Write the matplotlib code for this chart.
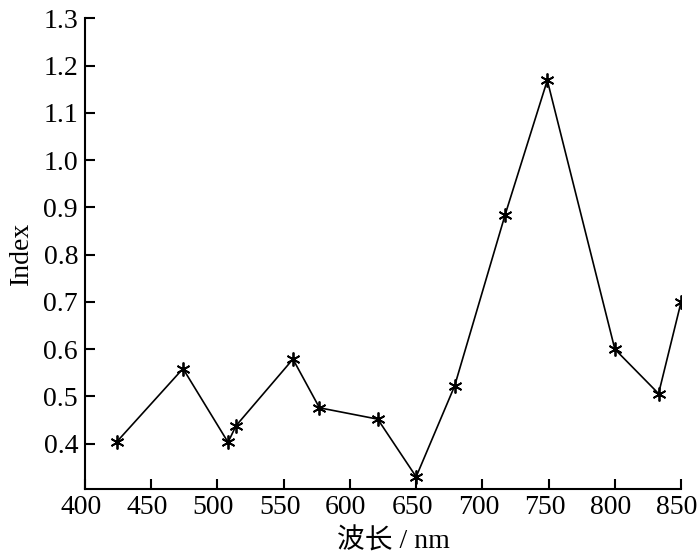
import matplotlib
matplotlib.use("Agg")
import matplotlib.pyplot as plt
import matplotlib.transforms as mtransforms

wavelength = [424, 474, 508, 514, 557, 577, 621, 650, 679, 717, 749, 800, 833, 850]
index_vals = [0.404, 0.559, 0.403, 0.438, 0.579, 0.476, 0.452, 0.330, 0.522, 0.883, 1.169, 0.600, 0.506, 0.700]
xticks = [400, 450, 500, 550, 600, 650, 700, 750, 800, 850]
yticks = [0.4, 0.5, 0.6, 0.7, 0.8, 0.9, 1.0, 1.1, 1.2, 1.3]

plt.rcParams['font.family'] = ['Liberation Serif', 'Noto Sans CJK SC']

fig = plt.figure(figsize=(7, 5.57), dpi=100)
ax = fig.add_axes([0.1214, 0.1215, 0.973 - 0.1214, 0.967 - 0.1215])
ax.plot(wavelength, index_vals, color='black', lw=1.2,
        marker=(6, 2, 0), markersize=10, markeredgewidth=1.3)
ax.set_xlim(400, 850)
ax.set_ylim(0.3035, 1.3)
ax.set_xticks(xticks)
ax.set_yticks(yticks)
ax.set_yticklabels([f"{v:.1f}" for v in yticks])
for s in ['top', 'right']:
    ax.spines[s].set_visible(False)
for s in ['left', 'bottom']:
    ax.spines[s].set_linewidth(1.5)
ax.tick_params(direction='in', length=7, width=1.5, labelsize=20)
ax.tick_params(axis='y', pad=5)
ax.tick_params(axis='x', pad=4)
offset = mtransforms.ScaledTranslation(-4.0 / 100, 0, fig.dpi_scale_trans)
for lab in ax.get_xticklabels():
    lab.set_transform(lab.get_transform() + offset)
ax.set_xlabel("波长 / nm", fontsize=20)
ax.xaxis.set_label_coords(0.518, -0.082)
ax.xaxis.label.set_verticalalignment('top')
ax.set_ylabel("Index", fontsize=20, labelpad=7)
fig.savefig("out.png", dpi=100)
